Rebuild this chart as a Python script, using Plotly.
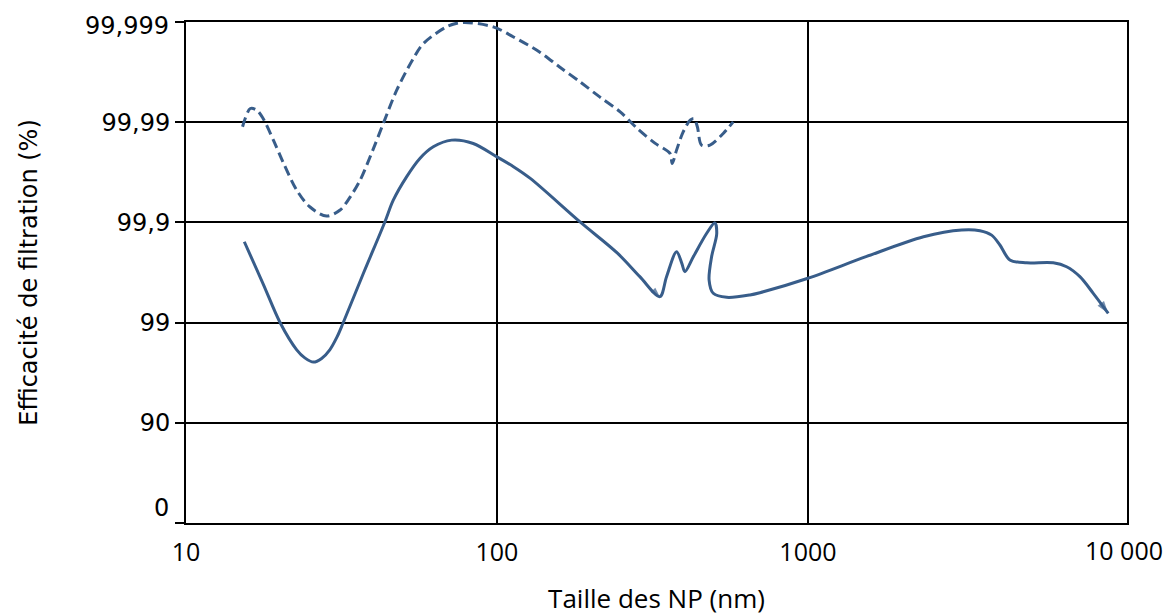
import plotly.graph_objects as go

# Particle size (nm) and filtration efficiency (%)
solid_nm = [15.4, 17.7, 20.1, 22.7, 24.1, 25.7, 27.3, 29.0, 30.6, 32.0, 37.2, 43.6, 46.4, 51.2,
            56.5, 62.4, 71.5, 83.9, 100, 113, 128, 185, 244, 288, 334, 351, 378, 393, 402, 428,
            472, 502, 509, 490, 481, 496, 548, 651, 701, 1000, 1537, 2353, 3123, 3574, 3896,
            4143, 4460, 5050, 6149, 6789, 7491, 8269, 9239]
solid_eff = [99.844, 99.59, 98.99, 98.13, 97.75, 97.52, 97.72, 98.13, 98.61, 98.99, 99.678,
             99.901, 99.940, 99.9649, 99.9770, 99.9824, 99.9849, 99.9837, 99.9778, 99.9722,
             99.9636, 99.901, 99.797, 99.652, 99.449, 99.652, 99.804, 99.744, 99.690, 99.780,
             99.871, 99.899, 99.871, 99.780, 99.624, 99.490, 99.441, 99.470, 99.497, 99.639,
             99.780, 99.861, 99.881, 99.879, 99.866, 99.832, 99.763, 99.747, 99.747, 99.723,
             99.652, 99.490, 99.193]

dash_nm = [15.2, 15.5, 16.1, 16.9, 17.7, 19.1, 20.6, 22.7, 25.0, 28.3, 31.3, 33.7, 36.3, 40.0,
           43.3, 47.6, 53.8, 58.0, 69.6, 77.9, 97.3, 113, 137, 159, 185, 214, 249, 282, 322,
           360, 366, 378, 397, 418, 430, 441, 455, 484, 534, 575]
dash_eff = [99.9889, 99.99082, 99.99270, 99.99241, 99.99082, 99.9849, 99.9742, 99.9524, 99.9302,
            99.9135, 99.9247, 99.9441, 99.9621, 99.98143, 99.99007, 99.99521, 99.99768, 99.99836,
            99.99890, 99.99899, 99.99888, 99.99859, 99.99801, 99.99719, 99.99604, 99.99441,
            99.99211, 99.98853, 99.98381, 99.97950, 99.9742, 99.9810, 99.98751, 99.99045,
            99.99082, 99.9889, 99.98305, 99.98305, 99.98704, 99.99007]

x_ticks = [10, 100, 1000]
x_ticktext = ["10", "100", "1000"]
x_last_tick = 10000
x_last_text = "10 000"
y_ticks_eff = [0, 90, 99, 99.9, 99.99, 99.999]
y_ticktext = ["0", "90", "99", "99,9", "99,99", "99,999"]

COLOR = "#385D8A"
X_RANGE = [1, 4.026]
TICK_FONT_Y = dict(family="DejaVu Sans", size=24, color="black")

def pen(vals):
    # penetration (%) = 100 - efficiency, plotted on a reversed log axis
    return [100 - v for v in vals]

fig = go.Figure()

# arrowheads at the hook and at the end of the solid curve
solid_sizes = [0] * len(solid_nm)
solid_sizes[24] = 10
solid_sizes[-1] = 13

fig.add_trace(go.Scatter(
    x=solid_nm, y=pen(solid_eff), mode="lines+markers",
    line=dict(color=COLOR, width=3, shape="spline", smoothing=0.9),
    marker=dict(symbol="arrow", angleref="previous", size=solid_sizes, color=COLOR,
                line=dict(width=0)),
    hoverinfo="skip", showlegend=False))

fig.add_trace(go.Scatter(
    x=dash_nm, y=pen(dash_eff), mode="lines",
    line=dict(color=COLOR, width=3, dash="10px,5px", shape="spline", smoothing=0.9),
    hoverinfo="skip", showlegend=False))

# inner tick labels drawn by the axis; the two end labels are nudged inward like the original
inner_text = [t if 0 < i < len(y_ticktext) - 1 else "" for i, t in enumerate(y_ticktext)]

fig.update_layout(
    width=1171, height=616,
    margin=dict(l=186, r=44, t=22, b=93),
    paper_bgcolor="white", plot_bgcolor="white",
    font=dict(family="Open Sans", color="black"),
    xaxis=dict(
        type="log", range=X_RANGE, automargin=False,
        tickvals=x_ticks, ticktext=x_ticktext,
        tickfont=dict(family="Open Sans", size=25, color="black"),
        showgrid=True, gridcolor="black", gridwidth=2,
        showline=True, linecolor="black", linewidth=2, mirror=True,
        ticks="", ticklabelstandoff=6,
        title=dict(text="Taille des NP (nm)",
                   font=dict(family="Open Sans", size=26, color="black"), standoff=28),
    ),
    yaxis=dict(
        type="log", range=[2, -3], automargin=False,
        tickvals=pen(y_ticks_eff), ticktext=inner_text,
        tickfont=TICK_FONT_Y,
        showgrid=True, gridcolor="black", gridwidth=2,
        showline=True, linecolor="black", linewidth=2, mirror=True,
        ticks="outside", ticklen=9, tickwidth=2, tickcolor="black",
        title=dict(text="Efficacité de filtration (%)",
                   font=dict(family="DejaVu Sans", size=24, color="black"), standoff=57),
    ),
)

# end labels of the y axis (0 and 99,999), shifted inward
fig.add_annotation(x=0, xref="paper", y=2, yref="y", xanchor="right", yanchor="middle",
                   xshift=-15, yshift=15, text=y_ticktext[0], showarrow=False, font=TICK_FONT_Y)
fig.add_annotation(x=0, xref="paper", y=-3, yref="y", xanchor="right", yanchor="middle",
                   xshift=-15, yshift=-4, text=y_ticktext[-1], showarrow=False, font=TICK_FONT_Y)

# last x tick label placed at 10 000 on the axis, without an extra gridline
fig.add_annotation(x=4, xref="x", y=0, yref="paper", yanchor="top", yshift=-8, xshift=5,
                   text=x_last_text, showarrow=False,
                   font=dict(family="Open Sans", size=25, color="black"))

fig.write_html("out.html")
